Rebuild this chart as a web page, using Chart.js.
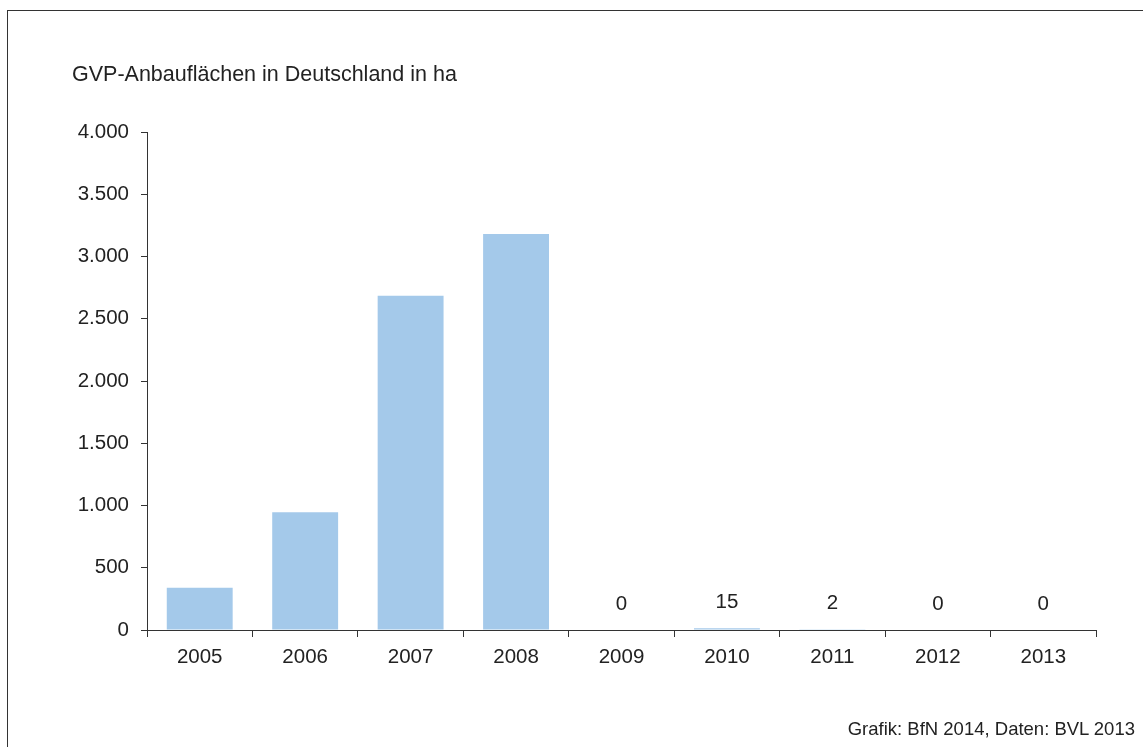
<!DOCTYPE html>
<html>
<head>
<meta charset="utf-8">
<script src="https://cdn.jsdelivr.net/npm/chart.js@4/dist/chart.umd.min.js"></script>
<style>
  html, body { margin: 0; padding: 0; background: #fff; }
  body { width: 1143px; height: 747px; position: relative; overflow: hidden;
         font-family: "Liberation Sans", Arial, sans-serif; color: #222; }
  #frame { position: absolute; left: 7px; top: 10px; width: 1200px; height: 800px;
           border-left: 1.5px solid #333; border-top: 1.5px solid #333; }
  #title { position: absolute; left: 72px; top: 62px; font-size: 21.5px; white-space: nowrap; }
  #source { position: absolute; right: 8px; top: 718px; font-size: 18.5px; white-space: nowrap; }
  #wrap { position: absolute; left: 0; top: 0; width: 1143px; height: 747px; }
</style>
</head>
<body>
<div id="frame"></div>
<div id="wrap"><canvas id="myChart"></canvas></div>
<div id="title">GVP-Anbauflächen in Deutschland in ha</div>
<div id="source">Grafik: BfN 2014, Daten: BVL 2013</div>
<script>
var years = ['2005', '2006', '2007', '2008', '2009', '2010', '2011', '2012', '2013'];
var hectares = [340, 945, 2685, 3180, 0, 15, 2, 0, 0];
var labelledYears = ['2009', '2010', '2011', '2012', '2013'];
var yTicks = [0, 500, 1000, 1500, 2000, 2500, 3000, 3500, 4000];

function deNumber(v) {
    return String(v).replace(/\B(?=(\d{3})+(?!\d))/g, '.');
}

var valueLabels = {
    id: 'valueLabels',
    afterDatasetsDraw: function(chart) {
        var ctx = chart.ctx;
        var meta = chart.getDatasetMeta(0);
        ctx.save();
        ctx.font = '20.5px "Liberation Sans", Arial, sans-serif';
        ctx.fillStyle = '#222';
        ctx.textAlign = 'center';
        ctx.textBaseline = 'middle';
        meta.data.forEach(function(bar, i) {
            if (labelledYears.indexOf(years[i]) < 0) return;
            ctx.fillText(deNumber(hectares[i]), bar.x, bar.y - 26);
        });
        ctx.restore();
    }
};

Chart.defaults.font.family = '"Liberation Sans", Arial, sans-serif';
Chart.defaults.color = '#222';

var ctx = document.getElementById('myChart').getContext('2d');
var myChart = new Chart(ctx, {
    type: 'bar',
    data: {
        labels: years,
        datasets: [{
            label: 'GVP-Anbauflächen',
            data: hectares,
            backgroundColor: '#a4c9ea',
            borderWidth: 0,
            categoryPercentage: 1,
            barPercentage: 0.625
        }]
    },
    options: {
        responsive: true,
        maintainAspectRatio: false,
        animation: false,
        layout: { padding: { top: 132, right: 47, bottom: 0, left: 0 } },
        plugins: {
            legend: { display: false },
            tooltip: { enabled: false }
        },
        scales: {
            x: {
                grid: { offset: true, drawOnChartArea: false, drawTicks: true, tickLength: 7, color: '#333', lineWidth: 1 },
                border: { color: '#333', width: 1 },
                ticks: { font: { size: 20.5 }, padding: 8, color: '#222' },
                afterFit: function(scale) { scale.height = 117; }
            },
            y: {
                min: 0,
                max: 4000,
                afterBuildTicks: function(scale) {
                    scale.ticks = yTicks.map(function(v) { return { value: v }; });
                },
                grid: { drawOnChartArea: false, drawTicks: true, tickLength: 6, color: '#333', lineWidth: 1 },
                border: { color: '#333', width: 1 },
                ticks: {
                    font: { size: 20.5 },
                    padding: 12,
                    color: '#222',
                    callback: function(v) { return deNumber(v); }
                },
                afterFit: function(scale) { scale.width = 147; }
            }
        }
    },
    plugins: [valueLabels]
});
</script>
</body>
</html>
